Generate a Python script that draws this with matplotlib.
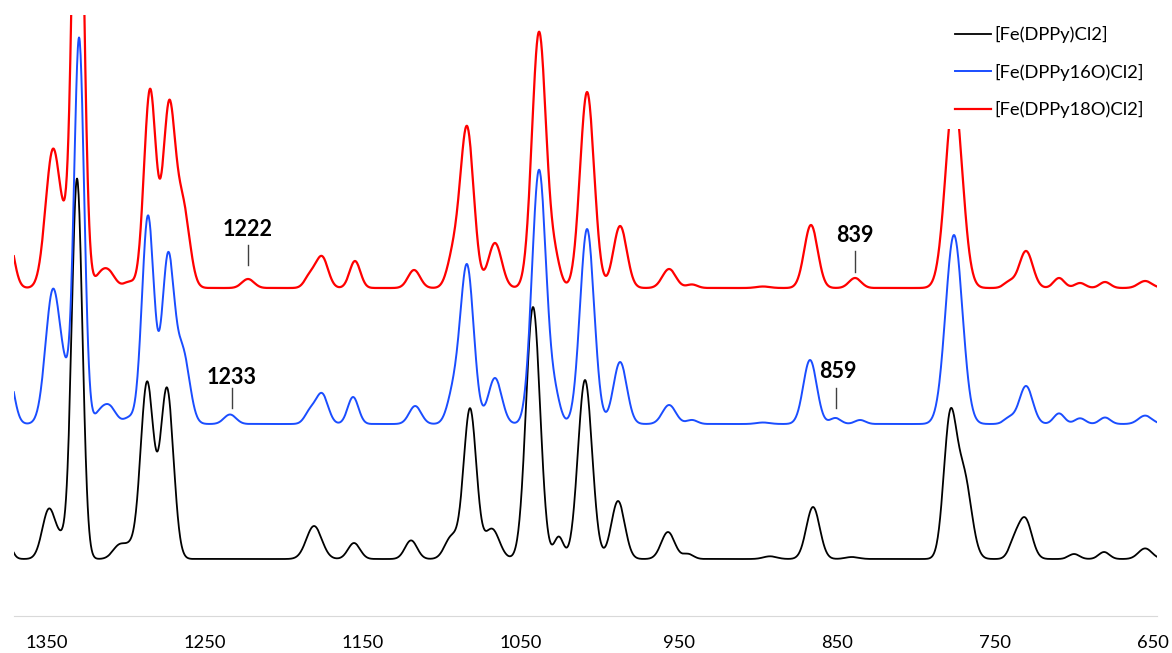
import matplotlib.pyplot as plt
import numpy as np

plt.rcParams['font.family'] = ['Lato', 'DejaVu Sans']

# peak tables: centre (cm-1), height, fwhm (cm-1)
black_pos = [1377, 1348.7, 1340, 1331.0, 1304, 1297, 1286.7, 1274.1, 1181, 1155.7, 1119.6, 1094,
             1082.3, 1068.4, 1042.4, 1026.1, 1009.5, 988.6, 957, 944.3, 892.4, 865.2, 840.5,
             778.5, 769.6, 738, 731, 700, 681, 655]
black_amp = [30, 50, 15, 380, 14, 9, 176, 170, 33, 16, 18.6, 22,
             150, 30, 252, 22, 179, 58, 27, 5, 2.7, 52, 2,
             136, 80, 14, 40, 5, 7, 10.6]
black_fwhm = [8, 10, 8, 8, 10, 8, 9.7, 9.7, 11.4, 9, 9, 10,
              9.5, 11, 10.5, 7, 10.5, 10, 10, 8, 10, 10, 10,
              9.5, 11, 8, 10, 8, 8, 10]

blue_pos = [1375, 1346.2, 1338, 1329.7, 1317, 1310.8, 1298, 1286.1, 1273.4, 1264, 1234.2, 1183.5,
            1176, 1156.3, 1117, 1093, 1084.2, 1066.5, 1038.6, 1028.5, 1008.2, 987.3, 956.3,
            941.8, 896.8, 867.1, 851, 835.4, 776, 741, 730.4, 709.5, 696.2, 680.4, 655]
blue_amp = [55, 134, 25, 385, 8, 18, 6, 208, 165, 70, 9.5, 12,
            30, 27, 18, 28, 158, 46, 254, 25, 195, 62, 19,
            4, 1.5, 64, 6, 4, 189, 6, 38, 10.6, 5.7, 6.5, 8.4]
blue_fwhm = [9, 11, 8, 7.5, 8, 10, 8, 9, 9, 10, 9, 8,
             9, 8, 9, 9, 10, 10, 10.5, 8, 10.5, 10, 10,
             8, 10, 10, 8, 8, 12.5, 8, 10, 8, 8, 8, 10]

red_pos = [1375, 1346.2, 1338, 1330.4, 1317, 1311.4, 1298, 1284.8, 1272.8, 1264, 1222.8, 1183.5,
           1176, 1155.1, 1117.7, 1093, 1084.2, 1066.5, 1038.6, 1028.5, 1008.2, 987.3, 956.3,
           941.8, 896.8, 866.5, 838.6, 776, 741, 730.4, 709.5, 696.2, 680.4, 655]
red_amp = [55, 138, 25, 560, 8, 17, 6, 198, 177, 80, 9, 12,
           31, 27, 18, 30, 160, 45, 256, 26, 196, 62, 19,
           3.5, 1.5, 63, 10, 192, 6, 37, 10, 5, 6, 7]
red_fwhm = [9, 11, 8, 8, 8, 10, 8, 9, 9, 10, 9, 8,
            9, 8, 9, 9, 10, 10, 10.5, 8, 10.5, 10, 10,
            8, 10, 10, 9, 12.5, 8, 10, 8, 8, 8, 10]

names = ['[Fe(DPPy)Cl2]', '[Fe(DPPy16O)Cl2]', '[Fe(DPPy18O)Cl2]']
band_labels = ['1222', '1233', '839', '859']

ticks = [1350, 1250, 1150, 1050, 950, 850, 750, 650]


def spectrum(x, pos, amp, fwhm):
    y = np.zeros_like(x)
    for c, a, w in zip(pos, amp, fwhm):
        s = w / 2.3548
        y += a * np.exp(-0.5 * ((x - c) / s) ** 2)
    return y


wn = np.arange(646.0, 1372.0, 0.25)

fig = plt.figure(figsize=(11.72, 6.53), dpi=100)
ax = fig.add_axes([14 / 1172, 37 / 653, 1143 / 1172, 601 / 653])

ax.plot(wn, spectrum(wn, black_pos, black_amp, black_fwhm) + 57, color='black', lw=1.3, label=names[0])
ax.plot(wn, spectrum(wn, blue_pos, blue_amp, blue_fwhm) + 192, color='#1a4dff', lw=1.4, label=names[1])
ax.plot(wn, spectrum(wn, red_pos, red_amp, red_fwhm) + 328, color='#ff0000', lw=1.6, label=names[2])

# band annotations (text x, text y, tick x, tick y0, tick y1)
ann = [(1222.8, 386, 1222.8, 371, 351),
       (1232.9, 239, 1232.9, 228, 208),
       (838.6, 380, 838.6, 365, 344),
       (849.4, 244, 850.6, 228, 208)]
for lab, (tx, ty, lx, y0, y1) in zip(band_labels, ann):
    ax.text(tx, ty, lab, ha='center', va='center', fontsize=15.5, fontweight='bold')
    ax.plot([lx, lx], [y0, y1], color='#404040', lw=1)

ax.set_xlim(1370.9, 647.5)
ax.set_ylim(0, 601)
ax.set_xticks(ticks)
ax.set_xticklabels([str(t) for t in ticks], fontsize=13.2)
ax.set_yticks([])
ax.tick_params(axis='x', length=0, pad=14)
for s in ['top', 'right', 'left']:
    ax.spines[s].set_visible(False)
ax.spines['bottom'].set_color('#d9d9d9')

leg = ax.legend(loc='upper left', bbox_to_anchor=(935 / 1172, 1 - 6 / 653), bbox_transform=fig.transFigure,
                fontsize=13.2, frameon=True, facecolor='white', edgecolor='none', framealpha=1,
                fancybox=False, borderpad=0.6, handlelength=1.97, handletextpad=0.16,
                labelspacing=1.12)

fig.savefig('out.png', dpi=100)
